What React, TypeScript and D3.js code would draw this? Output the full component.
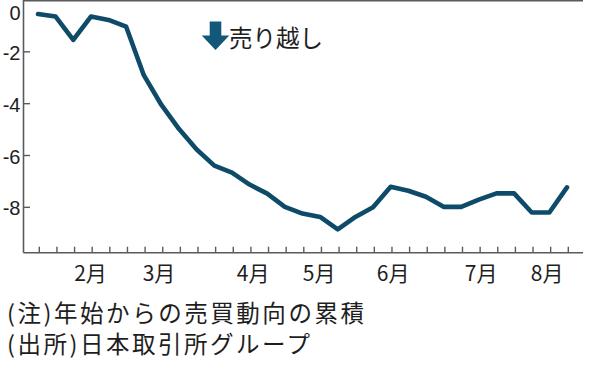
import React, { useEffect, useRef } from 'react';
import * as d3 from 'd3';

// weekly cumulative net buying (trillion yen), from the start of the year
const weekValues = [
  -0.54, -0.64, -1.54, -0.64, -0.77, -1.03, -2.9, -4.05, -4.98, -5.77,
  -6.39, -6.66, -7.12, -7.47, -7.98, -8.24, -8.37, -8.85, -8.37, -8.0,
  -7.21, -7.36, -7.59, -7.98, -7.98, -7.7, -7.46, -7.46, -8.2, -8.2, -7.23,
];
const yTicks = [0, -2, -4, -6, -8];
const monthLabels = ['2月', '3月', '4月', '5月', '6月', '7月', '8月'];
const monthWeekPos = [2.98, 6.86, 12.2, 15.94, 20.14, 25.13, 28.87];
const notes = ['(注)年始からの売買動向の累積', '(出所)日本取引所グループ'];
const noteWidths = [357, 303];
const annotation = '売り越し';

const LINE = '#0d4b69';
const AXIS = '#5a5a5a';
const FONT = '"Noto Sans CJK JP", "Noto Sans", sans-serif';
const NUM_FONT = '"Liberation Sans", Arial, sans-serif';

const App = () => {
  const svgRef = useRef<SVGSVGElement | null>(null);

  useEffect(() => {
    const svg = d3.select(svgRef.current);
    svg.selectAll('*').remove();

    const left = 23.5, right = 583, top = 0, bottom = 252.7;

    const x = d3.scaleLinear().domain([0, weekValues.length - 1]).range([38, 567]);
    const y = d3.scaleLinear().domain([-9.75, 0]).range([bottom, top]);

    // frame: top border, y axis, x axis
    svg.append('line')
      .attr('x1', left).attr('x2', right).attr('y1', 0.8).attr('y2', 0.8)
      .attr('stroke', AXIS).attr('stroke-width', 1.6);
    svg.append('line')
      .attr('x1', left).attr('x2', left).attr('y1', 0).attr('y2', bottom)
      .attr('stroke', AXIS).attr('stroke-width', 1.6);
    svg.append('line')
      .attr('x1', left).attr('x2', right).attr('y1', bottom).attr('y2', bottom)
      .attr('stroke', AXIS).attr('stroke-width', 1.6);

    // y ticks (inward) + labels; the top one is nudged down to stay inside the picture
    const yg = svg.append('g');
    yg.selectAll('line').data(yTicks).join('line')
      .attr('x1', left).attr('x2', left + 6.5)
      .attr('y1', d => y(d)).attr('y2', d => y(d))
      .attr('stroke', AXIS).attr('stroke-width', 1.4);
    yg.selectAll('text').data(yTicks).join('text')
      .attr('x', 20.5).attr('y', d => Math.max(y(d) + 1, 12.5))
      .attr('text-anchor', 'end').attr('dominant-baseline', 'central')
      .attr('font-family', NUM_FONT).attr('font-size', 20).attr('fill', '#1e1e1e')
      .text(d => (d === 0 ? '0' : `-${Math.abs(d)}`));

    // weekly x ticks (inward)
    svg.append('g').selectAll('line').data(d3.range(weekValues.length)).join('line')
      .attr('x1', d => x(d) + 1.3).attr('x2', d => x(d) + 1.3)
      .attr('y1', bottom - 6).attr('y2', bottom)
      .attr('stroke', AXIS).attr('stroke-width', 1.4);

    // month labels
    svg.append('g').selectAll('text').data(monthLabels).join('text')
      .attr('x', (d, i) => x(monthWeekPos[i]))
      .attr('y', 272)
      .attr('text-anchor', 'middle').attr('dominant-baseline', 'central')
      .attr('font-family', FONT).attr('font-size', 21).attr('fill', '#1e1e1e')
      .text(d => d);

    // the line
    const line = d3.line<number>()
      .x((d, i) => x(i))
      .y(d => y(d));
    svg.append('path')
      .datum(weekValues)
      .attr('d', line)
      .attr('fill', 'none')
      .attr('stroke', LINE)
      .attr('stroke-width', 4.6)
      .attr('stroke-linejoin', 'round')
      .attr('stroke-linecap', 'round');

    // annotation arrow + label
    const ag = svg.append('g').attr('transform', 'translate(215.5,0)');
    ag.append('path')
      .attr('d', 'M-5.8,21.5 L5.8,21.5 L5.8,35.5 L13.8,35.5 L0,50 L-13.8,35.5 L-5.8,35.5 Z')
      .attr('fill', '#13587a');
    svg.append('text')
      .attr('x', 229).attr('y', 37)
      .attr('dominant-baseline', 'central')
      .attr('font-family', FONT).attr('font-size', 23.5).attr('fill', '#1e1e1e')
      .text(annotation);

    // notes
    svg.append('g').selectAll('text').data(notes).join('text')
      .attr('x', 7).attr('y', (d, i) => 311.5 + i * 31.5)
      .attr('dominant-baseline', 'central')
      .attr('font-family', FONT).attr('font-size', 23.5).attr('fill', '#1e1e1e')
      .attr('textLength', (d, i) => noteWidths[i])
      .attr('lengthAdjust', 'spacing')
      .text(d => d);
  }, []);

  return (
    <div style={{ position: 'fixed', left: 0, top: 0, width: 600, height: 375, background: '#fff' }}>
      <svg ref={svgRef} width={600} height={375} style={{ display: 'block' }} />
    </div>
  );
};

export default App;
